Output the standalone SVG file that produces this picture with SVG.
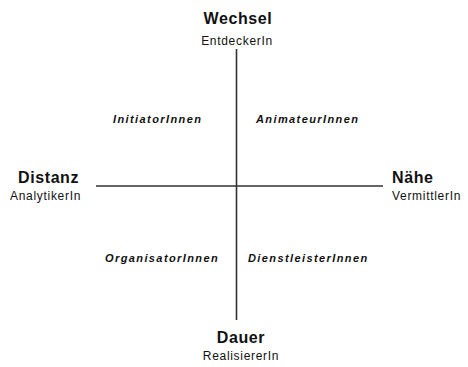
<svg xmlns="http://www.w3.org/2000/svg" width="468" height="367" viewBox="0 0 468 367">
<style>
.head{font-family:"Liberation Sans",Arial,sans-serif;font-weight:bold;font-size:16px;fill:#111;letter-spacing:0.6px}
.sub{font-family:"Liberation Sans",Arial,sans-serif;font-size:12px;fill:#111;letter-spacing:0.7px}
.quad{font-family:"Liberation Sans",Arial,sans-serif;font-weight:bold;font-style:italic;font-size:11px;fill:#111;letter-spacing:1.4px}
.axis{stroke:#333;stroke-width:1.6;fill:none}
</style>
<rect width="468" height="367" fill="#fff"/>
<g id="connectors">
<line class="axis" x1="236.5" y1="49" x2="236.5" y2="320"/>
<line class="axis" x1="96" y1="186" x2="383" y2="186"/>
</g>
<g id="top">
<text class="head" x="238" y="24" text-anchor="middle">Wechsel</text>
<text class="sub" x="237" y="45" text-anchor="middle">EntdeckerIn</text>
</g>
<g id="left">
<text class="head" x="18" y="183">Distanz</text>
<text class="sub" x="10" y="200">AnalytikerIn</text>
</g>
<g id="right">
<text class="head" x="392" y="183">Nähe</text>
<text class="sub" x="392" y="200">VermittlerIn</text>
</g>
<g id="bottom">
<text class="head" x="241" y="343" text-anchor="middle">Dauer</text>
<text class="sub" x="241" y="360" text-anchor="middle">RealisiererIn</text>
</g>
<g id="q1"><text class="quad" x="113" y="123">InitiatorInnen</text></g>
<g id="q2"><text class="quad" x="256" y="123">AnimateurInnen</text></g>
<g id="q3"><text class="quad" x="105" y="262">OrganisatorInnen</text></g>
<g id="q4"><text class="quad" x="248" y="262">DienstleisterInnen</text></g>
</svg>
